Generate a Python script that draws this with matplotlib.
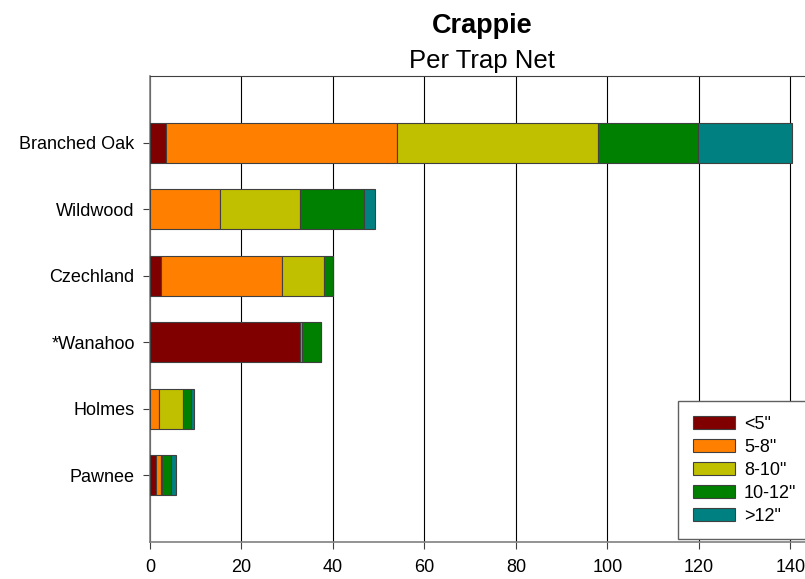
import matplotlib
matplotlib.use("Agg")
import matplotlib.pyplot as plt
import numpy as np

plt.rcParams['font.family'] = ['Liberation Sans', 'DejaVu Sans']

lakes = ["Branched Oak", "Wildwood", "Czechland", "*Wanahoo", "Holmes", "Pawnee"]
size_classes = ['<5"', '5-8"', '8-10"', '10-12"', '>12"']
lt5 = [3.6, 0.0, 2.5, 32.9, 0.0, 1.4]
s5_8 = [50.4, 15.3, 26.4, 0.3, 1.9, 1.0]
s8_10 = [44.0, 17.6, 9.1, 0.0, 5.3, 0.3]
s10_12 = [21.7, 13.8, 2.1, 4.2, 1.8, 1.9]
gt12 = [20.7, 2.4, 0.0, 0.0, 0.7, 1.1]
colors = ["#800000", "#FF8000", "#C0C000", "#008000", "#008080"]
xticks = [0, 20, 40, 60, 80, 100, 120, 140]

fig = plt.figure(figsize=(8.05, 5.79), dpi=100)
ax = fig.add_axes([150/805, 1-542/579, (805-150)/805, (542-76)/579])

y = np.arange(len(lakes))
left = np.zeros(len(lakes))
series = [lt5, s5_8, s8_10, s10_12, gt12]
for vals, c, lab in zip(series, colors, size_classes):
    vals = np.array(vals)
    ax.barh(y, vals, left=left, height=0.6, color=c, edgecolor="#404040",
            linewidth=0.8, label=lab, zorder=3)
    left += vals

ax.set_ylim(len(lakes), -1)
ax.set_xlim(0, 143.2)
ax.set_yticks(y)
ax.set_yticklabels(lakes, fontsize=13)
ax.set_xticks(xticks)
ax.set_xticklabels([str(t) for t in xticks], fontsize=13)
ax.tick_params(axis='x', direction='out', length=5, width=0.8, pad=7, color="#404040")
ax.tick_params(axis='y', direction='out', length=5, width=0.8, pad=6, color="#404040")
ax.grid(axis='x', color="black", linewidth=0.8, zorder=0)
ax.set_axisbelow(True)
for s in ['left', 'bottom']:
    ax.spines[s].set_color("#808080")
    ax.spines[s].set_linewidth(1.2)
ax.spines['top'].set_color("#404040")
ax.spines['right'].set_visible(False)

leg = ax.legend(loc='upper left', bbox_to_anchor=(678/805, 1-401/579), bbox_transform=fig.transFigure,
                borderaxespad=0, fontsize=13, frameon=True, fancybox=False, edgecolor="#606060",
                handlelength=2.33, handleheight=0.7, handletextpad=0.5, labelspacing=0.33,
                borderpad=0.82, framealpha=1)
leg.get_frame().set_linewidth(1.0)

fig.text(482/805, 1-33/579, "Crappie", ha='center', va='baseline', fontsize=19.5, fontweight='bold')
fig.text(482/805, 1-68/579, "Per Trap Net", ha='center', va='baseline', fontsize=18.5)

fig.savefig("out.png", dpi=100)
